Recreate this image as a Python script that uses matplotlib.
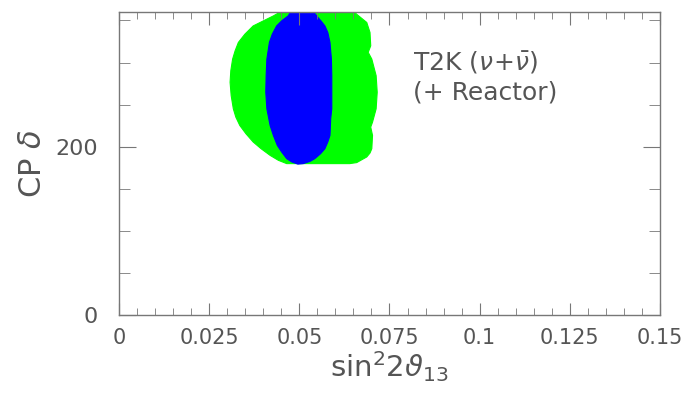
import matplotlib
matplotlib.use("Agg")
import matplotlib.pyplot as plt
from matplotlib.ticker import MultipleLocator, FixedLocator

# contornos (sin^2 2theta13, delta CP en grados)
verde_x = [0.0455, 0.0441, 0.0428, 0.0372, 0.0349, 0.0331, 0.0322, 0.0315, 0.0310,
           0.0308, 0.0311, 0.0317, 0.0324, 0.0335, 0.0352, 0.0372, 0.0394, 0.0419,
           0.0442, 0.0465, 0.0640, 0.0659, 0.0687, 0.0696, 0.0701, 0.0703, 0.0698,
           0.0703, 0.0713, 0.0716, 0.0713, 0.0701, 0.0691, 0.0698, 0.0696, 0.0687,
           0.0659, 0.0640]
verde_y = [366, 358.6, 355.4, 343.5, 333.7, 323.9, 314.0, 304.1, 290.3,
           276.6, 260.7, 245.0, 235.1, 225.2, 215.4, 205.6, 197.6, 189.7,
           183.8, 179.9, 179.9, 181.1, 187.8, 192.5, 197.6, 213.4, 223.3,
           229.2, 245.0, 264.7, 284.4, 304.1, 312.1, 319.9, 335.7, 347.6,
           357.4, 366]

azul_x = [0.0485, 0.0469, 0.0451, 0.0437, 0.0425, 0.0417, 0.0410, 0.0408, 0.0407,
          0.0410, 0.0419, 0.0428, 0.0439, 0.0451, 0.0465, 0.0479, 0.0496, 0.0511,
          0.0530, 0.0543, 0.0559, 0.0571, 0.0579, 0.0585, 0.0587, 0.0590, 0.0590,
          0.0589, 0.0585, 0.0579, 0.0571, 0.0560, 0.0548, 0.0530]
azul_y = [366, 355.4, 349.5, 343.5, 333.7, 323.9, 304.1, 284.4, 264.7,
          245.0, 225.2, 213.4, 201.5, 193.7, 185.8, 181.9, 179.3, 179.9,
          182.6, 185.8, 191.7, 197.6, 205.6, 213.4, 233.1, 245.0, 284.4,
          304.1, 323.9, 335.7, 343.5, 349.5, 355.4, 366]

xticks = [0, 0.025, 0.05, 0.075, 0.1, 0.125, 0.15]
xlabels = ["0", "0.025", "0.05", "0.075", "0.1", "0.125", "0.15"]
yticks = [0, 200]
ylabels = ["0", "200"]

gris = "#555555"

fig = plt.figure(figsize=(6.86, 3.95), dpi=100)
ax = fig.add_axes([0.1735, 0.2025, 0.7885, 0.767])

ax.fill(verde_x, verde_y, facecolor="#00ff00", edgecolor="#00ff00", lw=0.8, joinstyle="round")
ax.fill(azul_x, azul_y, facecolor="#0000ff", edgecolor="#0000ff", lw=0.8, joinstyle="round")

ax.set_xlim(0, 0.15)
ax.set_ylim(0, 360)

ax.xaxis.set_major_locator(FixedLocator(xticks))
ax.set_xticklabels(xlabels)
ax.xaxis.set_minor_locator(MultipleLocator(0.005))
ax.yaxis.set_major_locator(FixedLocator(yticks))
ax.set_yticklabels(ylabels)
ax.yaxis.set_minor_locator(MultipleLocator(50))

ax.tick_params(which="both", direction="in", top=True, right=True, colors="#777777",
               labelcolor=gris)
ax.tick_params(axis="x", which="major", length=9, pad=9, labelsize=15)
ax.tick_params(axis="x", which="minor", length=5)
ax.tick_params(axis="y", which="major", length=12, pad=15, labelsize=16)
ax.tick_params(axis="y", which="minor", length=8)

for s in ax.spines.values():
    s.set_color("#777777")
    s.set_linewidth(1.0)

ax.set_xlabel(r"sin$^2$2$\vartheta_{13}$", fontsize=21, color=gris, labelpad=1)
ax.set_ylabel(r"CP $\delta$", fontsize=22, color=gris, labelpad=6)

ax.text(0.0815, 300, r"T2K ($\nu\!+\!\bar{\nu}$)", fontsize=18, color=gris, va="center")
ax.text(0.0815, 264, "(+ Reactor)", fontsize=18, color=gris, va="center")

fig.savefig("out.png", dpi=100)
